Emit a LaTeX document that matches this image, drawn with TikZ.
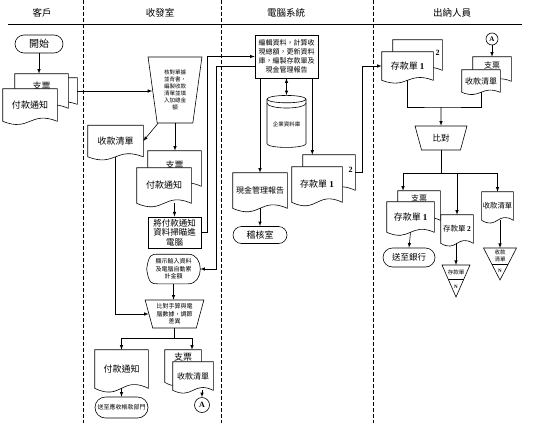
\documentclass[tikz,border=0pt]{standalone}
\usepackage{fontspec}
\setmainfont{Noto Sans CJK TC}
\newfontfamily\latin{Liberation Serif}
\usetikzlibrary{shapes.geometric,shapes.misc,positioning}
\newcommand\fsz[2]{\fontsize{#1pt}{#2pt}\selectfont}

% document symbol: rectangle with a wavy lower edge
\makeatletter
\pgfdeclareshape{wavedoc}{
  \inheritsavedanchors[from=rectangle]
  \inheritanchorborder[from=rectangle]
  \inheritanchor[from=rectangle]{center}
  \inheritanchor[from=rectangle]{north}
  \inheritanchor[from=rectangle]{south}
  \inheritanchor[from=rectangle]{east}
  \inheritanchor[from=rectangle]{west}
  \inheritanchor[from=rectangle]{north east}
  \inheritanchor[from=rectangle]{north west}
  \inheritanchor[from=rectangle]{south east}
  \inheritanchor[from=rectangle]{south west}
  \inheritanchor[from=rectangle]{mid}
  \inheritanchor[from=rectangle]{base}
  \backgroundpath{
    \southwest \edef\wdxa{\the\pgf@x}\edef\wdya{\the\pgf@y}
    \northeast \edef\wdxb{\the\pgf@x}\edef\wdyb{\the\pgf@y}
    \pgf@xa=\wdxa \pgf@xb=\wdxb
    \pgf@xc=.5\pgf@xa \advance\pgf@xc by .5\pgf@xb \edef\wdxm{\the\pgf@xc}
    \pgf@yc=\wdyb \advance\pgf@yc by -\wdya \pgf@yc=.34\pgf@yc
    \pgf@ya=\wdya \advance\pgf@ya by -\pgf@yc \edef\wdylo{\the\pgf@ya}
    \pgf@ya=\wdya \advance\pgf@ya by \pgf@yc \edef\wdyhi{\the\pgf@ya}
    \pgfpathmoveto{\pgfqpoint{\wdxa}{\wdyb}}
    \pgfpathlineto{\pgfqpoint{\wdxa}{\wdya}}
    \pgfpathcurveto{\pgfqpoint{\wdxm}{\wdylo}}{\pgfqpoint{\wdxm}{\wdyhi}}{\pgfqpoint{\wdxb}{\wdya}}
    \pgfpathlineto{\pgfqpoint{\wdxb}{\wdyb}}
    \pgfpathclose
  }
}
\makeatother

\begin{document}
\begin{tikzpicture}[x=1pt, y=-1pt, line width=.6pt,
		sz/.style 2 args={minimum width=#1pt, minimum height=#2pt},
		term/.style={rounded corners=#1pt, draw, fill=white, inner sep=1pt, align=center}]
			\tikzstyle{lane} = [dash pattern=on 4pt off 2pt]
			\tikzstyle{docu} = [wavedoc, draw, fill=white, inner sep=1pt, align=center]
			\tikzstyle{manop} = [trapezium, draw, fill=white, shape border rotate=180, trapezium stretches=true, inner sep=0pt, align=center]
			\tikzstyle{proc} = [rectangle, draw, fill=white, inner sep=1pt, align=center]
			\tikzstyle{dispbox} = [rectangle, inner sep=0pt, align=center]
			\tikzstyle{store} = [cylinder, draw, fill=white, shape border rotate=90, aspect=.25, inner sep=1pt]
			\tikzstyle{conn} = [circle, draw, fill=white, inner sep=0pt]
			\tikzstyle{arr} = [-latex]
			\tikzstyle{dbl} = [latex-latex]

			\fill[white] (0,0) rectangle (534,423);
			\useasboundingbox (0,0) rectangle (534,423);

			% lanes
			\node[font=\fsz{9.5}{11}] (hcl) at (42,13) {客戶};
			\node[font=\fsz{9.5}{11}] (hrm) at (160,13) {收發室};
			\node[font=\fsz{9.5}{11}] (hcs) at (286,13) {電腦系統};
			\node[font=\fsz{9.5}{11}] (hca) at (452,13) {出納人員};
			\draw (8,24) -- (522,24);
			\foreach \x in {83,221,373}
				\draw[lane] (\x,0) -- (\x,423);

			% customer
			\node[term=9, sz={48}{18}, font=\fsz{10}{12}] (start) at (39,44) {開始};
			\node[docu, sz={53}{26}] (cpage) at (50.5,91) {};
			\node[docu, sz={53}{34}, text depth=10pt, font=\fsz{9}{11}] (cchq) at (41.5,91) {支票};
			\node[docu, sz={54}{32}, font=\fsz{9}{11}] (cpay) at (30,105) {付款通知};
			\draw[arr] (start) -- (start |- cchq.north);

			% mail room
			\node[manop, sz={54}{66}, trapezium angle=82, font=\fsz{5.5}{7}] (chkop) at (175,90) {核對單據\\並背書，\\編製收款\\清單並填\\入加總金\\額};
			\draw[arr] (cpage.east) -- (cpage.east -| chkop.west);
			\node[docu, sz={55}{31}, font=\fsz{9}{11}] (rlist) at (115.5,141) {收款清單};
			\node[docu, sz={53}{35}, text depth=7pt, font=\fsz{9}{11}] (chq2) at (174.5,168.5) {支票};
			\node[docu, sz={54}{35}, font=\fsz{9}{11}] (pay2) at (164,185.5) {付款通知};
			\node[proc, sz={53}{31}, line width=.9pt, font=\fsz{8.5}{9.5}] (scan) at (174.5,232.5) {將付款通知\\資料掃瞄進\\電腦};
			\node[dispbox, sz={53}{29}, font=\fsz{6}{7.5}] (disp) at (173.5,269) {顯示輸入資料\\及電腦自動累\\計金額};
			\draw (disp.west) .. controls ([xshift=2pt]disp.north west) and ([xshift=5pt]disp.north west) .. ([xshift=11pt]disp.north west)
				-- ([xshift=-12pt]disp.north east) .. controls ([xshift=4pt]disp.north east) and ([xshift=4pt]disp.south east) .. ([xshift=-12pt]disp.south east)
				-- ([xshift=11pt]disp.south west) .. controls ([xshift=5pt]disp.south west) and ([xshift=2pt]disp.south west) .. (disp.west);
			\node[manop, sz={59}{28}, trapezium angle=73, font=\fsz{6}{7.5}] (cmpop) at (174.5,314) {比對手算與電\\腦數據，調節\\差異};
			\node[docu, sz={53}{38}, font=\fsz{9}{11}] (pay3) at (121.5,369) {付款通知};
			\node[docu, sz={36}{32}, text depth=18pt, font=\fsz{9}{11}] (chq3) at (183,366) {支票};
			\node[docu, sz={40}{28}, font=\fsz{8}{10}] (rl3) at (193,376) {收款清單};
			\node[term=10.5, sz={53}{21}, font=\fsz{6}{7}] (toar) at (121.5,407.5) {送至應收帳款部門};
			\node[conn, minimum size=15pt, font=\latin\bfseries\fsz{8}{8}] (conA1) at (202,405) {A};

			\draw[arr] ([xshift=-17pt]chkop.south) -- (rlist.east);
			\draw[arr] (chkop.south) -- (chkop.south |- chq2.north);
			\draw[arr] (pay2.south -| scan.north) -- (scan.north);
			\draw[arr] (disp.south) -- (disp.south |- cmpop.north);
			\draw[arr] (rlist.south) |- (cmpop.west);
			\draw (cmpop.south) -- ++(0,10) coordinate (spl1);
			\draw[arr] (spl1) -| (pay3.north);
			\draw[arr] (spl1) -| ([xshift=9pt]chq3.north);
			\draw[arr] (pay3.south) -- (toar.north);
			\draw[arr] (conA1 |- rl3.south) -- (conA1);

			% computer
			\node[proc, sz={63}{43}, font=\fsz{7}{9}] (comp) at (286.5,56.5) {編輯資料，計算收\\現總額，更新資料\\庫，編製存款單及\\現金管理報告};
			\node[store, minimum width=39pt, minimum height=52pt, font=\fsz{5.5}{6}] (db) at (286.5,124) {企業資料庫};
			\draw ([xshift=-19.5pt,yshift=-8pt]db.north) arc[start angle=180, end angle=360, x radius=19.5pt, y radius=4.9pt];
			\node[docu, sz={54}{35}, font=\fsz{8}{10}] (rep) at (260,190.5) {現金管理報告};
			\node[term=8.5, sz={54}{17}, font=\fsz{9}{10}] (audit) at (260,235) {稽核室};
			\node[docu, sz={52}{35}, text width=47pt, align=right, text depth=5pt, font=\latin\bfseries\fsz{8}{8}] (dep2) at (329,172.5) {2};
			\node[docu, sz={50}{35}, font=\fsz{9}{11}] (dep1) at (317,184.5) {存款單 {\latin\bfseries 1}};

			\draw[arr] (scan.east) -- ++(6,0) |- (comp.west);
			\draw[arr] ([yshift=-10pt]comp.west) -- ++(-38,0) |- (disp.east);
			\draw[dbl] (comp.south) -- (db.north);
			\draw[arr] (comp.south west -| rep.north) -- (rep.north);
			\draw[arr] (rep.south) -- (audit.north);
			\draw[arr] ([xshift=-6pt]comp.south east) -- ([xshift=-6pt]comp.south east |- dep2.north);

			% cashier
			\node[docu, sz={49}{30}, text width=44pt, align=right, text depth=4pt, font=\latin\bfseries\fsz{8}{8}] (cdep2) at (417.5,55) {2};
			\node[docu, sz={51}{28}, font=\fsz{9}{11}] (cdep1) at (407.5,66) {存款單 {\latin\bfseries 1}};
			\node[conn, minimum size=12pt, font=\latin\bfseries\fsz{7}{7}] (conA2) at (492,39) {A};
			\node[docu, sz={38}{24}, text depth=8pt, font=\fsz{8}{10}] (cchq) at (492,69) {支票};
			\node[docu, sz={38}{22}, font=\fsz{8}{10}] (crl) at (481,81) {收款清單};
			\node[manop, sz={52}{24}, trapezium angle=70, font=\fsz{8.5}{10}] (cmp2) at (441,138) {比對};
			\node[docu, sz={42}{29}, text depth=15pt, font=\fsz{8}{10}] (cchq2) at (419,205.5) {支票};
			\node[docu, sz={47}{30}, font=\fsz{9}{11}] (cdep1b) at (410.5,217) {存款單 {\latin\bfseries 1}};
			\node[term=9.5, sz={52}{19}, font=\fsz{8.5}{10}] (bank) at (409,257.5) {送至銀行};
			\node[docu, sz={32}{28}, font=\fsz{7.5}{9}] (cdep3) at (457,229) {存款單 {\latin\bfseries 2}};
			\node[docu, sz={31}{28}, font=\fsz{7.3}{9}] (crl2) at (497.5,206) {收款清單};

			\draw[arr] (dep2.east) -- ++(7,0) |- (cdep1.west);
			\draw[arr] (conA2) -- (conA2 |- cchq.north);
			\coordinate (mrg) at (441,107);
			\draw (cdep1.south) |- (mrg) -| (crl.south);
			\draw[arr] (mrg) -- (cmp2.north);
			\draw (cmp2.south) -- ++(0,23) coordinate (spl2);
			\draw[arr] (spl2) -| ([xshift=-16pt]cchq2.north);
			\draw[arr] (spl2) -| (cdep3.north);
			\draw[arr] (spl2) -| (crl2.north);
			\draw[arr] (cdep1b.south) -- (bank.north);

			% files
			\coordinate (f1) at (456,265);
			\coordinate (f2) at (500,248);
			\draw[arr] (f1 |- cdep3.south) -- (f1);
			\draw[arr] (f2 |- crl2.south) -- (f2);
			\draw (442,265) -- (470,265) -- (456,297) -- cycle;
			\draw (448.1,279) -- (463.9,279);
			\node[font=\fsz{5.5}{6}] (f1txt) at (456,272) {存款單};
			\node[font=\latin\bfseries\fsz{5}{5}] (f1n) at (456,287) {N};
			\draw (483.5,248) -- (516.5,248) -- (500,280) -- cycle;
			\draw (491.8,264) -- (508.2,264);
			\node[font=\fsz{5.5}{6.5}, align=center] (f2txt) at (500,256) {收款\\清單};
			\node[font=\latin\bfseries\fsz{5}{5}] (f2n) at (500,270.5) {N};
	\end{tikzpicture}
\end{document}
